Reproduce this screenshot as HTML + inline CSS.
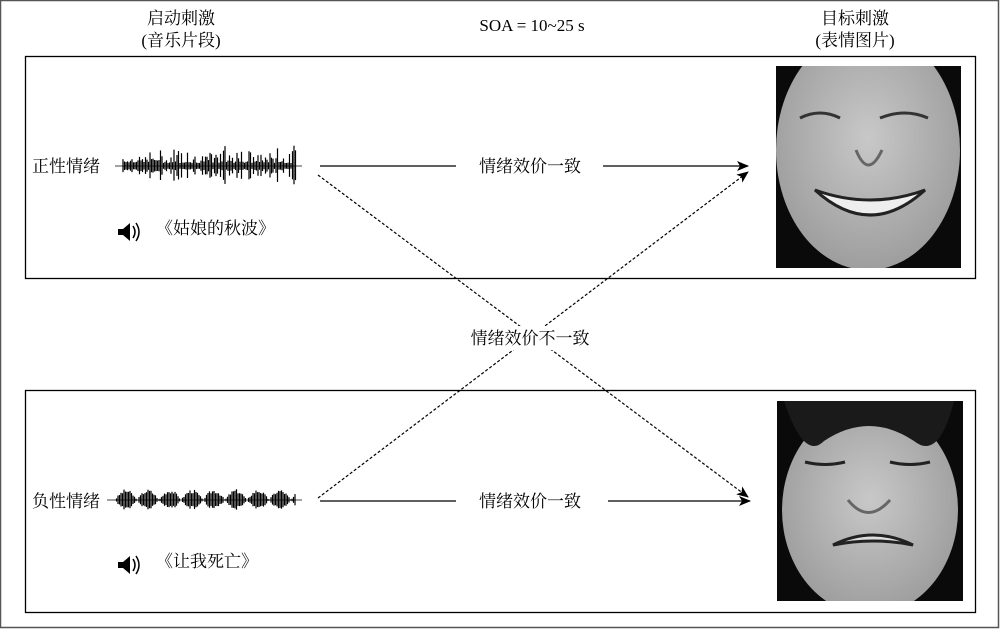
<!DOCTYPE html>
<html><head><meta charset="utf-8"><style>
body{margin:0;background:#fff;}
svg text{font-family:"Liberation Serif","Noto Serif CJK SC",serif;fill:#000;}
</style></head><body>
<svg id="s" width="1000" height="629" viewBox="0 0 1000 629" xmlns="http://www.w3.org/2000/svg">
<defs>
<marker id="ah" markerWidth="12" markerHeight="10" refX="11" refY="5" orient="auto" markerUnits="userSpaceOnUse">
<path d="M0,0 L12,5 L0,10 L3,5 Z" fill="#000"/></marker>
<radialGradient id="fg" cx="50%" cy="45%" r="60%"><stop offset="0" stop-color="#c8c8c8"/><stop offset="1" stop-color="#9a9a9a"/></radialGradient>
<clipPath id="c1"><rect x="776" y="66" width="185" height="202"/></clipPath>
<clipPath id="c2"><rect x="777" y="401" width="186" height="200"/></clipPath>
</defs>
<rect x="0.5" y="0.5" width="998" height="627" fill="#fff" stroke="#555" stroke-width="1.5"/>
<rect x="25.5" y="56.5" width="950" height="222" fill="none" stroke="#000" stroke-width="1.3"/>
<rect x="25.5" y="390.5" width="950" height="222" fill="none" stroke="#000" stroke-width="1.3"/>
<text x="181" y="24" font-size="17" text-anchor="middle">启动刺激</text>
<text x="181" y="46" font-size="17" text-anchor="middle">(音乐片段)</text>
<text x="532" y="31" font-size="17" text-anchor="middle">SOA = 10~25 s</text>
<text x="855" y="24" font-size="17" text-anchor="middle">目标刺激</text>
<text x="855" y="46" font-size="17" text-anchor="middle">(表情图片)</text>
<text x="32" y="172" font-size="17">正性情绪</text>
<text x="32" y="507" font-size="17">负性情绪</text>
<g id="w1"></g><g id="w2"></g>
<path d="M118,229 h5 l7,-6 v18 l-7,-6 h-5z" fill="#000"/>
<path d="M133,226 q4,6 0,12 M136,223 q6,9 0,18" stroke="#000" fill="none" stroke-width="1.5"/>
<text x="156" y="234" font-size="17">《姑娘的秋波》</text>
<path d="M118,562 h5 l7,-6 v18 l-7,-6 h-5z" fill="#000"/>
<path d="M133,559 q4,6 0,12 M136,556 q6,9 0,18" stroke="#000" fill="none" stroke-width="1.5"/>
<text x="156" y="567" font-size="17">《让我死亡》</text>
<line x1="320" y1="166" x2="456" y2="166" stroke="#000" stroke-width="1.3"/>
<line x1="603" y1="166" x2="748" y2="166" stroke="#000" stroke-width="1.3" marker-end="url(#ah)"/>
<text x="530" y="172" font-size="17" text-anchor="middle">情绪效价一致</text>
<line x1="320" y1="501" x2="456" y2="501" stroke="#000" stroke-width="1.3"/>
<line x1="608" y1="501" x2="750" y2="501" stroke="#000" stroke-width="1.3" marker-end="url(#ah)"/>
<text x="530" y="507" font-size="17" text-anchor="middle">情绪效价一致</text>
<line x1="318" y1="175" x2="748" y2="497" stroke="#000" stroke-width="1.2" stroke-dasharray="3,2" marker-end="url(#ah)"/>
<line x1="318" y1="498" x2="748" y2="172" stroke="#000" stroke-width="1.2" stroke-dasharray="3,2" marker-end="url(#ah)"/>
<rect x="458" y="326" width="142" height="24" fill="#fff"/>
<text x="530" y="344" font-size="17" text-anchor="middle">情绪效价不一致</text>
<rect x="776" y="66" width="185" height="202" fill="#0a0a0a"/>
<g clip-path="url(#c1)">
<ellipse cx="868" cy="150" rx="92" ry="120" fill="url(#fg)"/>
<path d="M800,118 q20,-10 40,0 M880,118 q25,-10 48,0" stroke="#333" stroke-width="3" fill="none"/>
<path d="M856,150 q12,30 26,0" stroke="#666" stroke-width="3" fill="none"/>
<path d="M815,190 q55,50 110,0 q-55,20 -110,0z" fill="#eee" stroke="#222" stroke-width="3"/>
</g>
<rect x="777" y="401" width="186" height="200" fill="#0a0a0a"/>
<g clip-path="url(#c2)">
<ellipse cx="870" cy="510" rx="88" ry="105" fill="url(#fg)"/>
<path d="M784,401 q20,60 40,40 q45,-30 90,0 q25,20 40,-40z" fill="#1a1a1a"/>
<path d="M805,462 q20,5 40,0 M890,462 q20,5 40,0" stroke="#222" stroke-width="3" fill="none"/>
<path d="M848,500 q20,25 42,0" stroke="#666" stroke-width="3" fill="none"/>
<path d="M833,545 q40,-20 80,0 q-40,-8 -80,0z" fill="#ddd" stroke="#222" stroke-width="3"/>
</g>
</svg>
<script>
function wave(id,cy,x0,x1,seed,neg){var g=document.getElementById(id),s=seed,h='';
function r(){s=(s*9301+49297)%233280;return s/233280;}
h+='<line x1="'+(x0-8)+'" y1="'+cy+'" x2="'+(x1+6)+'" y2="'+cy+'" stroke="#444" stroke-width="1"/>';
for(var x=x0;x<x1;x+=1.5){var a;
if(neg){var p=((x-x0)%22)/22;a=Math.sin(p*Math.PI)*11*(0.6+0.4*r());}
else{a=3+r()*r()*14;if(r()<0.08)a+=10;}
h+='<line x1="'+x+'" y1="'+(cy-a)+'" x2="'+x+'" y2="'+(cy+a*0.9)+'" stroke="#000" stroke-width="1.2"/>';}
g.innerHTML=h;}
wave('w1',166,123,296,7,false);wave('w2',500,115,296,3,true);
</script>
</body></html>
